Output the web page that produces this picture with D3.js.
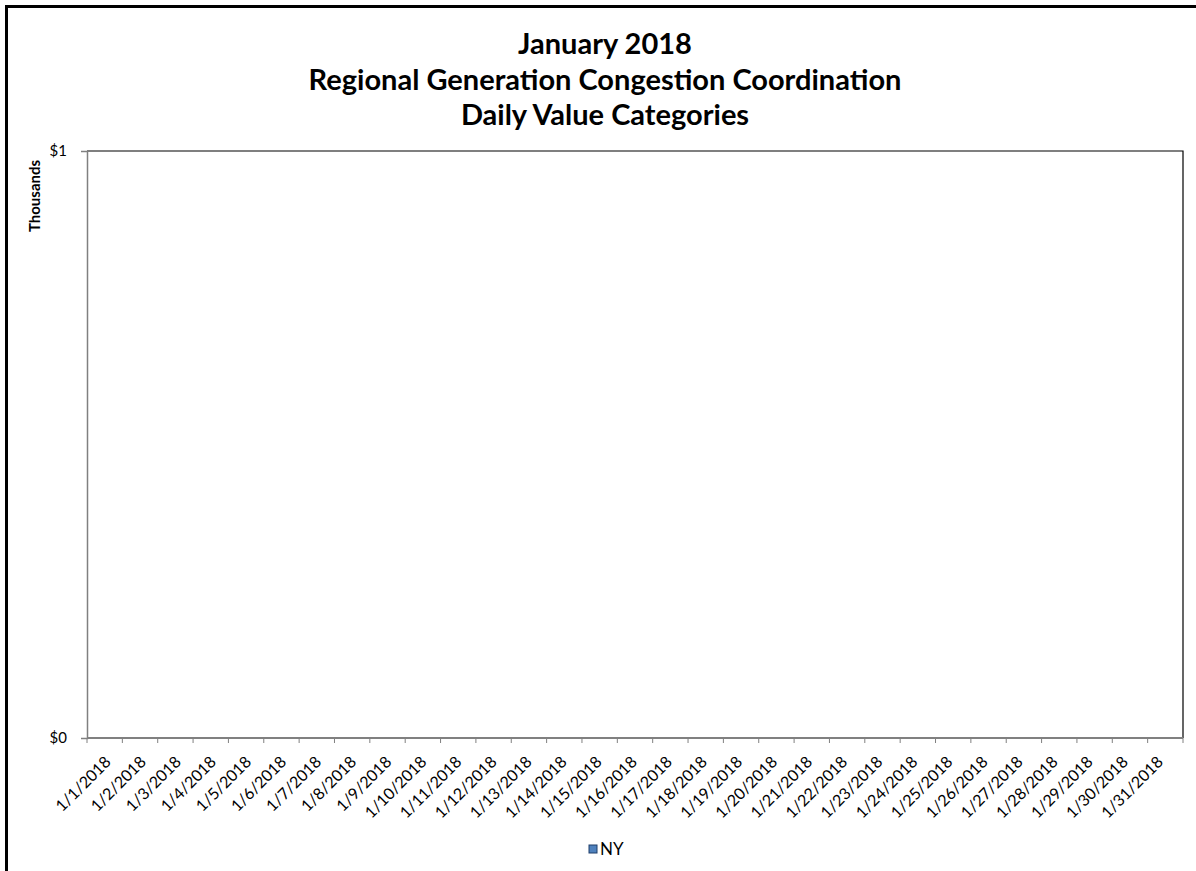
<!DOCTYPE html>
<html><head><meta charset="utf-8">
<script src="https://cdn.jsdelivr.net/npm/d3@7"></script>
<style>
html,body{margin:0;padding:0;background:#fff;}
svg{display:block;}
text{font-family:Lato,"Open Sans","Liberation Sans",sans-serif;}
</style></head>
<body>
<svg id="chart" width="1196" height="871"></svg>
<script>
const titleLines = ["January 2018", "Regional Generation Congestion Coordination", "Daily Value Categories"];
const categories = ["1/1/2018","1/2/2018","1/3/2018","1/4/2018","1/5/2018","1/6/2018","1/7/2018","1/8/2018","1/9/2018","1/10/2018","1/11/2018","1/12/2018","1/13/2018","1/14/2018","1/15/2018","1/16/2018","1/17/2018","1/18/2018","1/19/2018","1/20/2018","1/21/2018","1/22/2018","1/23/2018","1/24/2018","1/25/2018","1/26/2018","1/27/2018","1/28/2018","1/29/2018","1/30/2018","1/31/2018"];
const seriesName = "NY";
const nyValues = [0,0,0,0,0,0,0,0,0,0,0,0,0,0,0,0,0,0,0,0,0,0,0,0,0,0,0,0,0,0,0];
const yTicks = [0, 1];
const yTickLabels = ["$0", "$1"];
const yAxisTitle = "Thousands";

const svg = d3.select("#chart");
const W = 1196, H = 871;
const plot = {left: 87, top: 151, right: 1183, bottom: 738};

// outer frame
svg.append("rect").attr("x", 6.5).attr("y", 6.5).attr("width", W + 20).attr("height", H + 20)
  .attr("fill", "#fff").attr("stroke", "#000").attr("stroke-width", 3);

// title
svg.append("g").selectAll("text").data(titleLines).join("text")
  .attr("x", 605).attr("y", (d, i) => 54 + i * 35.5)
  .attr("text-anchor", "middle").attr("font-weight", "bold").attr("font-size", 29)
  .attr("fill", "#000").text(d => d);

const x = d3.scaleBand().domain(categories).range([plot.left, plot.right]).padding(0.25);
const y = d3.scaleLinear().domain([0, 1]).range([plot.bottom, plot.top]);

// plot border (top & right)
svg.append("path")
  .attr("d", `M${plot.left},${plot.top}H${plot.right}V${plot.bottom}`)
  .attr("fill", "none").attr("stroke", "#000").attr("stroke-width", 1.2);

// bars
svg.append("g").selectAll("rect").data(nyValues).join("rect")
  .attr("x", (d, i) => x(categories[i])).attr("width", x.bandwidth())
  .attr("y", d => y(d)).attr("height", d => y(0) - y(d))
  .attr("fill", "#4F81BD");

// y axis
const yAxis = d3.axisLeft(y).tickValues(yTicks).tickFormat((d, i) => yTickLabels[i]).tickSize(6).tickPadding(14);
const yg = svg.append("g").attr("transform", `translate(${plot.left},0)`).call(yAxis);
yg.attr("font-family", null).attr("font-size", null);
yg.select(".domain").attr("stroke", "#808080").attr("stroke-width", 1.5);
yg.selectAll(".tick line").attr("stroke", "#808080");
yg.selectAll(".tick text").attr("font-size", 15).attr("fill", "#000");

svg.append("text").attr("transform", `translate(40,196) rotate(-90)`)
  .attr("text-anchor", "middle").attr("font-weight", "bold").attr("font-size", 15).text(yAxisTitle);

// x axis with ticks at category boundaries
const xb = d3.scaleLinear().domain([0, categories.length]).range([plot.left, plot.right]);
const xg = svg.append("g");
xg.append("line").attr("x1", plot.left).attr("x2", plot.right).attr("y1", plot.bottom).attr("y2", plot.bottom)
  .attr("stroke", "#808080").attr("stroke-width", 2);
xg.selectAll("line.tk").data(d3.range(categories.length + 1)).join("line").attr("class", "tk")
  .attr("x1", d => xb(d)).attr("x2", d => xb(d)).attr("y1", plot.bottom).attr("y2", plot.bottom + 5)
  .attr("stroke", "#808080").attr("stroke-width", 1);
xg.selectAll("text").data(categories).join("text")
  .attr("transform", d => `translate(${x(d) + x.bandwidth() / 2 + 3},${plot.bottom + 25}) rotate(-45)`)
  .attr("text-anchor", "end").attr("font-size", 16).attr("fill", "#000").text(d => d);

// legend
const lg = svg.append("g").attr("transform", "translate(589,845)");
lg.append("rect").attr("width", 8).attr("height", 8).attr("fill", "#4F81BD").attr("stroke", "#1F3E6B").attr("stroke-width", 1);
lg.append("text").attr("x", 11).attr("y", 10).attr("font-size", 17).attr("fill", "#000").text(seriesName);
</script>
</body></html>
